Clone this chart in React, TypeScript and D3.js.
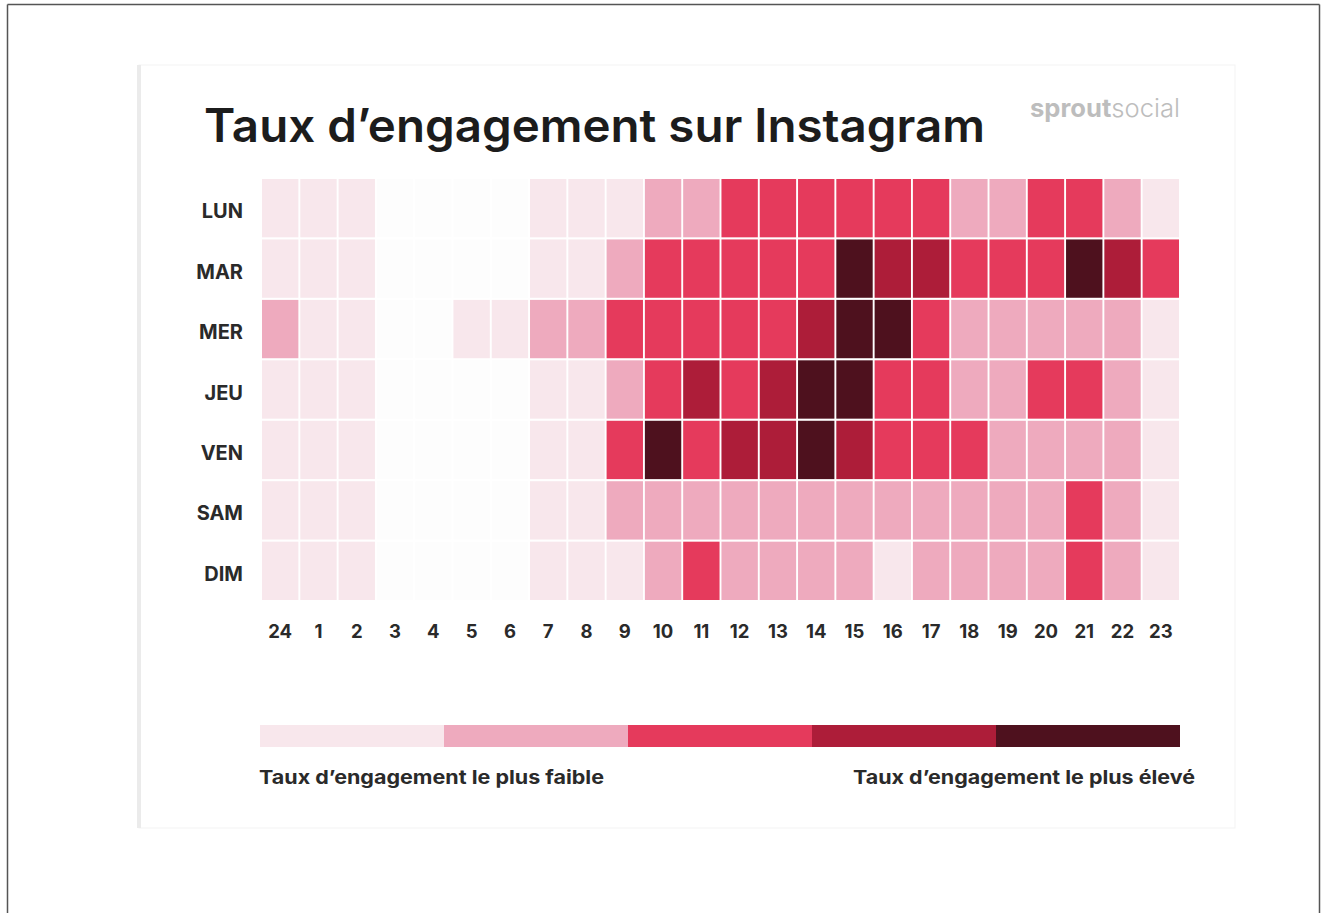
import React from "react";
import * as d3 from "d3";

const days = ["LUN", "MAR", "MER", "JEU", "VEN", "SAM", "DIM"];
const hours = ["24", "1", "2", "3", "4", "5", "6", "7", "8", "9", "10", "11", "12", "13", "14", "15", "16", "17", "18", "19", "20", "21", "22", "23"];

// engagement level per hour (0 = none, 5 = highest)
const lun = [1, 1, 1, 0, 0, 0, 0, 1, 1, 1, 2, 2, 3, 3, 3, 3, 3, 3, 2, 2, 3, 3, 2, 1];
const mar = [1, 1, 1, 0, 0, 0, 0, 1, 1, 2, 3, 3, 3, 3, 3, 5, 4, 4, 3, 3, 3, 5, 4, 3];
const mer = [2, 1, 1, 0, 0, 1, 1, 2, 2, 3, 3, 3, 3, 3, 4, 5, 5, 3, 2, 2, 2, 2, 2, 1];
const jeu = [1, 1, 1, 0, 0, 0, 0, 1, 1, 2, 3, 4, 3, 4, 5, 5, 3, 3, 2, 2, 3, 3, 2, 1];
const ven = [1, 1, 1, 0, 0, 0, 0, 1, 1, 3, 5, 3, 4, 4, 5, 4, 3, 3, 3, 2, 2, 2, 2, 1];
const sam = [1, 1, 1, 0, 0, 0, 0, 1, 1, 2, 2, 2, 2, 2, 2, 2, 2, 2, 2, 2, 2, 3, 2, 1];
const dim = [1, 1, 1, 0, 0, 0, 0, 1, 1, 1, 2, 3, 2, 2, 2, 2, 1, 2, 2, 2, 2, 3, 2, 1];

const levels = [0, 1, 2, 3, 4, 5];
const levelColors = ["#fdfdfd", "#f8e7ec", "#eeaabe", "#e53a5c", "#ad1d39", "#4e111e"];
const legendLevels = [1, 2, 3, 4, 5];

const title = "Taux d\u2019engagement sur Instagram";
const lowLabel = "Taux d\u2019engagement le plus faible";
const highLabel = "Taux d\u2019engagement le plus \u00e9lev\u00e9";

export default function App() {
  const W = 1322, H = 913;
  const rows = [lun, mar, mer, jeu, ven, sam, dim];
  const x = d3.scaleBand<string>().domain(hours).range([262, 1179]).paddingInner(0.05);
  const y = d3.scaleBand<string>().domain(days).range([179, 600]).paddingInner(0.035);
  const color = d3.scaleOrdinal<number, string>().domain(levels).range(levelColors);
  const lx = d3.scaleBand<number>().domain(legendLevels).range([260, 1180]);
  const font = "Inter, 'Noto Sans', sans-serif";

  const cells: { d: string; h: string; v: number }[] = [];
  rows.forEach((r, i) => r.forEach((v, j) => cells.push({ d: days[i], h: hours[j], v })));

  return (
    <svg width={W} height={H} style={{ position: "absolute", left: 0, top: 0, background: "#fff" }} fontFamily={font}>
      <rect x={0} y={0} width={W} height={H} fill="#fff" />
      {/* outer frame */}
      <line x1={7.5} y1={4.5} x2={1319.5} y2={4.5} stroke="#555" strokeWidth={1.5} />
      <line x1={7.5} y1={4.5} x2={7.5} y2={H} stroke="#555" strokeWidth={1.5} />
      <line x1={1319.5} y1={4.5} x2={1319.5} y2={H} stroke="#555" strokeWidth={1.5} />
      {/* card */}
      <rect x={139} y={65} width={1096} height={763} fill="#fff" stroke="#f3f3f3" strokeWidth={1} />
      <rect x={137} y={65} width={4} height={763} fill="#ebebeb" />

      <text x={204} y={142} fontSize={46} fontWeight={600} fill="#1c1c1c" textLength={781} lengthAdjust="spacingAndGlyphs">{title}</text>
      <text x={1030} y={117} fontSize={25} fill="#bdbdbd" textLength={150} lengthAdjust="spacingAndGlyphs">
        <tspan fontWeight={700}>sprout</tspan><tspan fontWeight={300}>social</tspan>
      </text>

      {cells.map((c, i) => (
        <rect key={i} x={x(c.h)} y={y(c.d)} width={x.bandwidth()} height={y.bandwidth()} fill={color(c.v)} />
      ))}

      {days.map((d) => (
        <text key={d} x={243} y={(y(d) as number) + y.bandwidth() / 2 + 10} textAnchor="end" fontSize={20} fontWeight={700} fill="#2a2a2a">{d}</text>
      ))}
      {hours.map((h) => (
        <text key={h} x={(x(h) as number) + x.bandwidth() / 2} y={638} textAnchor="middle" fontSize={18.5} fontWeight={700} fill="#2a2a2a">{h}</text>
      ))}

      {legendLevels.map((l) => (
        <rect key={l} x={lx(l)} y={725} width={lx.bandwidth()} height={22} fill={color(l)} />
      ))}
      <text x={259} y={784} fontSize={19} fontWeight={700} fill="#2a2a2a" textLength={345} lengthAdjust="spacingAndGlyphs">{lowLabel}</text>
      <text x={853} y={784} fontSize={19} fontWeight={700} fill="#2a2a2a" textLength={342} lengthAdjust="spacingAndGlyphs">{highLabel}</text>
    </svg>
  );
}
